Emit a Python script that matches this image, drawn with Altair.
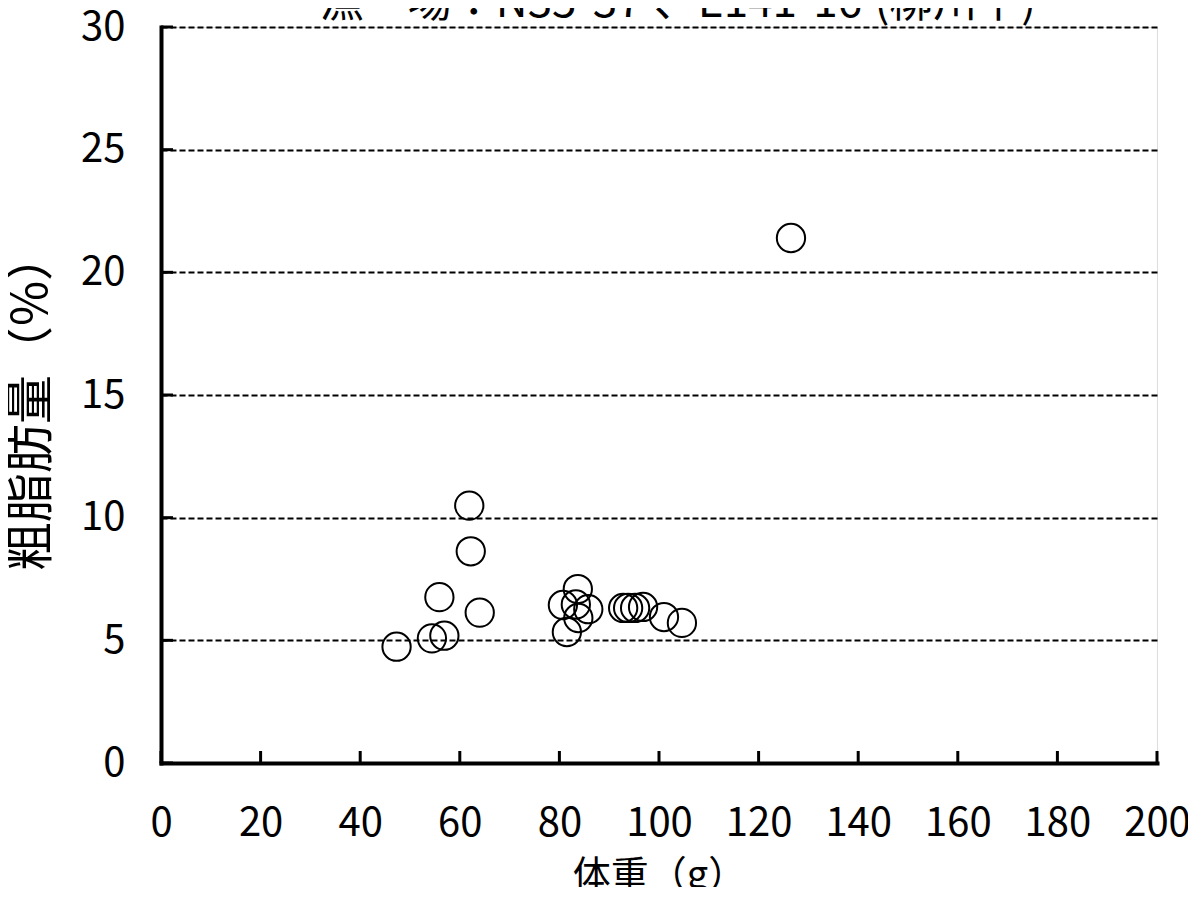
import altair as alt
import pandas as pd

# data
weight_g = [126.5, 61.9, 62.2, 55.9, 64.0, 47.3, 54.4, 56.9,
            83.7, 80.7, 83.3, 85.8, 83.8, 81.5,
            92.8, 93.8, 95.2, 96.8, 101.0, 104.6]
fat_pct = [21.4, 10.49, 8.63, 6.76, 6.13, 4.74, 5.08, 5.19,
           7.09, 6.44, 6.46, 6.27, 5.91, 5.34,
           6.32, 6.32, 6.32, 6.36, 5.95, 5.71]
x_ticks = [0, 20, 40, 60, 80, 100, 120, 140, 160, 180, 200]
y_ticks = [0, 5, 10, 15, 20, 25, 30]

title_text = ["漁　場：N35°37′、E141°16′(柳川下)"]
x_title = "体重（g）"
y_title = "粗脂肪量（%）"

FONT = "Noto Sans CJK JP"
W, H = 996, 736

df = pd.DataFrame({"w": weight_g, "f": fat_pct})
xt = pd.DataFrame({"v": x_ticks})
yt = pd.DataFrame({"v": y_ticks})
tt = pd.DataFrame({"t": title_text})

xs = alt.Scale(domain=[0, 200], nice=False, zero=False)
ys = alt.Scale(domain=[0, 30], nice=False, zero=False)

xaxis = alt.Axis(values=x_ticks, title=x_title, grid=False, ticks=False,
                 domainColor="black", domainWidth=4, domainCap="square",
                 labelFont=FONT, labelFontSize=40, labelColor="black", labelPadding=40,
                 labelFlush=False, labelOverlap=False,
                 titleFont=FONT, titleFontSize=38, titleFontWeight="normal",
                 titleColor="black", titlePadding=14)
yaxis = alt.Axis(values=y_ticks, title=y_title, grid=True, ticks=False,
                 gridColor="black", gridDash=[6, 3], gridWidth=2,
                 domainColor="black", domainWidth=4, domainCap="square",
                 labelFont=FONT, labelFontSize=40, labelColor="black", labelPadding=36,
                 labelFlush=False, labelOverlap=False,
                 titleFont=FONT, titleFontSize=49, titleFontWeight="normal",
                 titleColor="black", titlePadding=24, titleY=374)

points = alt.Chart(df).mark_point(
    shape="circle", filled=False, size=800, stroke="black", strokeWidth=2, opacity=1
).encode(
    x=alt.X("w:Q", scale=xs, axis=xaxis),
    y=alt.Y("f:Q", scale=ys, axis=yaxis),
)

yticks = alt.Chart(yt).mark_rule(color="black", strokeWidth=3).encode(
    y=alt.Y("v:Q", scale=ys),
    x=alt.value(0),
    x2=alt.value(12),
)
xticks = alt.Chart(xt).mark_rule(color="black", strokeWidth=3).encode(
    x=alt.X("v:Q", scale=xs),
    y=alt.value(H),
    y2=alt.value(H - 12),
)

title = alt.Chart(tt).mark_text(
    font=FONT, fontSize=44, color="black", align="center", baseline="alphabetic"
).encode(
    text="t:N",
    x=alt.value(W / 2 + 19),
    y=alt.value(-10),
)

chart = alt.layer(yticks, xticks, points, title).properties(
    width=W, height=H,
    autosize=alt.AutoSizeParams(type="none"),
    padding={"left": 153, "top": 19, "right": 31, "bottom": 124},
).configure_view(stroke=None).configure(background="white")

chart.save("out.html", embed_options={"renderer": "svg", "actions": False})
